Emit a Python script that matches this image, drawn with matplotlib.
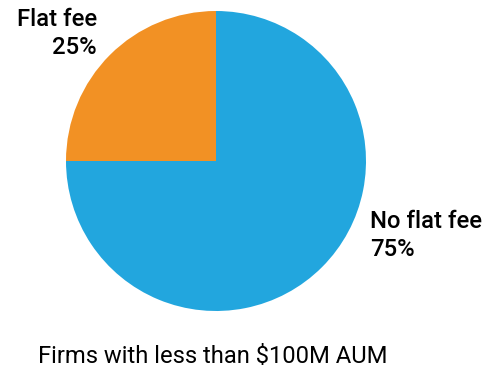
import matplotlib.pyplot as plt

categories = ["Flat fee", "No flat fee"]
shares = [25, 75]
colors = ["#F29124", "#22A6DE"]
caption = "Firms with less than $100M AUM"

plt.rcParams["font.family"] = ["Roboto", "DejaVu Sans"]

W, H = 492, 368
fig = plt.figure(figsize=(W / 100, H / 100), dpi=100)

# pie: centre (216, 161) px, radius 150 px
cx, cy, r = 216, 161, 150
ax = fig.add_axes([(cx - r) / W, (H - cy - r) / H, 2 * r / W, 2 * r / H])
ax.pie(shares, colors=colors, startangle=90, counterclock=True, radius=1,
       wedgeprops={"linewidth": 0})
ax.set_xlim(-1, 1)
ax.set_ylim(-1, 1)
ax.set_aspect("equal")
ax.axis("off")


def px(x, y):
    return x / W, 1 - y / H


label_style = dict(fontsize=17.2, fontweight="medium", va="baseline")
fig.text(*px(97, 26), categories[0], ha="right", **label_style)
fig.text(*px(97, 54), f"{shares[0]}%", ha="right", **label_style)
fig.text(*px(370, 228), categories[1], ha="left", **label_style)
fig.text(*px(370, 256), f"{shares[1]}%", ha="left", **label_style)

fig.text(*px(38, 363), caption, ha="left", va="baseline", fontsize=17.1)

fig.savefig("out.png", dpi=100)
